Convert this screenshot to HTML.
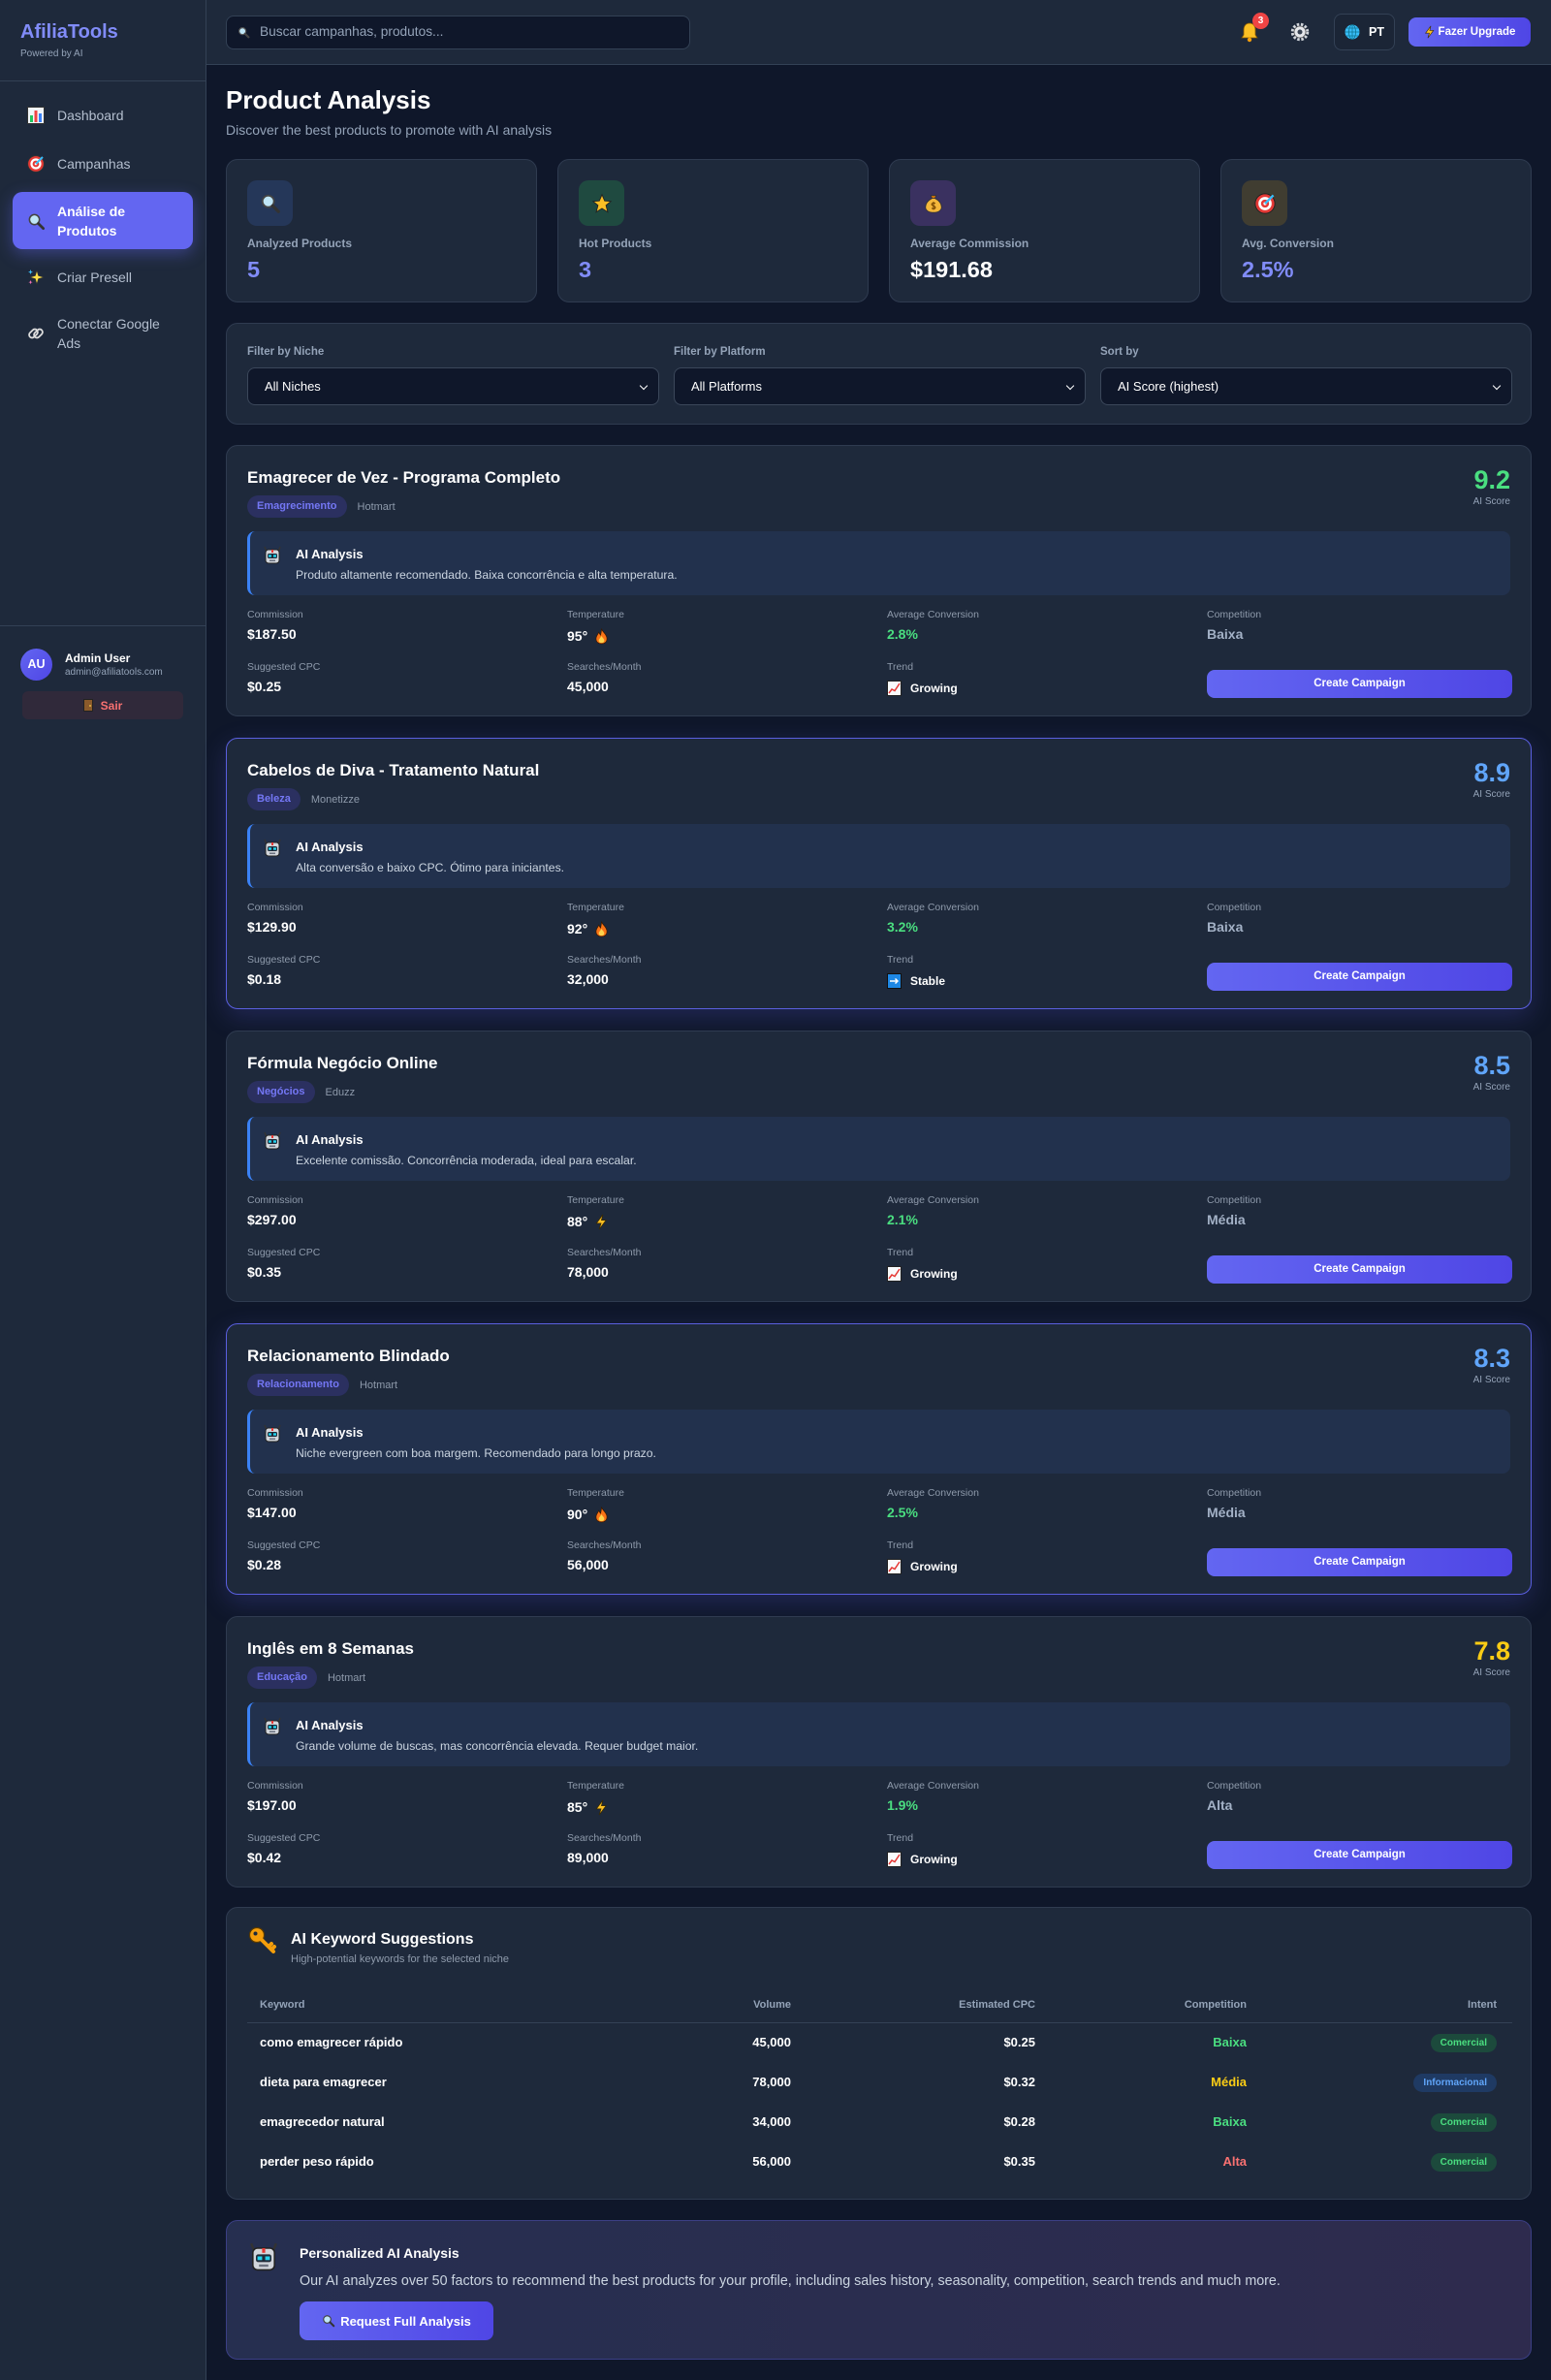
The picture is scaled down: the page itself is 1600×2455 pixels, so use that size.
<!DOCTYPE html>
<html><head><meta charset="utf-8">
<style>
*{box-sizing:border-box;margin:0;padding:0}
body{width:1600px;height:2455px;background:#0f172a;font-family:"Liberation Sans",Arial,sans-serif;color:#fff;position:relative;overflow:hidden}
.a{position:absolute}
svg{display:block}
.sidebar{position:absolute;left:0;top:0;width:213px;height:2455px;background:#1e293b;border-right:1px solid #334155}
.nav{position:absolute;left:0;width:213px;height:20px;font-size:14px;color:#b4bfcf;line-height:20px}
.nav .ic{position:absolute;left:28px;top:1px}
.nav .tx{position:absolute;left:59px;top:0;white-space:nowrap}
.header{position:absolute;left:213px;top:0;width:1387px;height:67px;background:#1e293b;border-bottom:1px solid #334155}
.card{position:absolute;left:233px;width:1347px;background:#1e293b;border:1px solid #2f3b50;border-radius:12px}
.stat{position:absolute;top:164px;width:321px;height:148px;background:#1e293b;border:1px solid #2f3b50;border-radius:12px}
.stat .ib{position:absolute;left:21px;top:21px;width:47px;height:47px;border-radius:10px;display:flex;align-items:center;justify-content:center}
.stat .lb{position:absolute;left:21px;top:79px;font-size:12px;line-height:14px;color:#94a3b8;font-weight:bold;}
.stat .vl{position:absolute;left:21px;top:98px;font-size:23.5px;line-height:30px;font-weight:bold;color:#818cf8}
.flab{position:absolute;top:23px;font-size:11.5px;line-height:12px;color:#94a3b8;font-weight:bold}
.sel{position:absolute;top:45px;width:425px;height:39px;background:#0f172a;border:1px solid #3b475a;border-radius:8px;font-size:13px;line-height:37px;padding-left:17px;color:#fff}
.sel .chev{position:absolute;right:12px;top:15px;width:6px;height:6px;border-right:1.6px solid #fff;border-bottom:1.6px solid #fff;transform:rotate(45deg)}
.pc{height:280px}
.pc.hl{border-color:#5a5fe0;box-shadow:0 8px 26px rgba(99,102,241,0.22)}
.pc .tt{position:absolute;left:21px;top:22px;font-size:17px;line-height:22px;font-weight:bold;white-space:nowrap}
.pc .bd{position:absolute;left:21px;top:51px;height:23px;display:flex;align-items:center;font-size:11px}
.pc .bd .n{background:#2b3060;color:#7477f5;border-radius:12px;padding:0 10px;line-height:23px;font-weight:bold}
.pc .bd .p{color:#8e9aab;margin-left:11px}
.pc .sc{position:absolute;right:21px;top:20px;font-size:27px;line-height:30px;font-weight:bold;text-align:right}
.pc .sl{position:absolute;right:21px;top:52px;font-size:10px;line-height:12px;color:#94a3b8}
.pc .ai{position:absolute;left:21px;right:21px;top:88px;height:66px;background:#22314d;border-left:3px solid #3b82f6;border-radius:8px}
.pc .ai .rb{position:absolute;left:13px;top:13px}
.pc .ai .h{position:absolute;left:47px;top:16px;font-size:13px;line-height:16px;font-weight:bold}
.pc .ai .d{position:absolute;left:47px;top:38px;font-size:12.2px;line-height:14px;color:#cbd5e1;white-space:nowrap}
.pc .ml{position:absolute;font-size:10.5px;line-height:12px;color:#8e9aab}
.pc .mv{position:absolute;font-size:14px;line-height:18px;font-weight:bold;display:flex;align-items:center;white-space:nowrap}
.pc .btn{position:absolute;left:1011px;top:231px;width:315px;height:29px;border-radius:8px;background:linear-gradient(90deg,#6366f1,#4f46e5);font-size:11.5px;line-height:29px;text-align:center;font-weight:bold}
.kw{position:absolute;font-size:13px;line-height:16px;font-weight:bold;white-space:nowrap}
.th{position:absolute;top:93px;font-size:11px;line-height:14px;color:#94a3b8;font-weight:bold}
.pill{position:absolute;height:19px;border-radius:10px;font-size:10px;line-height:19px;padding:0 10px;font-weight:bold}
</style></head><body>

<!-- SIDEBAR -->
<div class="sidebar">
  <div class="a" style="left:21px;top:21px;font-size:20px;line-height:24px;font-weight:bold;color:#818cf8">AfiliaTools</div>
  <div class="a" style="left:21px;top:50px;font-size:10px;line-height:12px;color:#94a3b8">Powered by AI</div>
  <div class="a" style="left:0;top:83px;width:212px;height:1px;background:#334155"></div>

  <div class="nav" style="top:109px"><span class="ic"><svg width="18" height="18" viewBox="0 0 18 18"><rect x=".5" y=".5" width="17" height="17" fill="#f1f5f9" stroke="#333"/><rect x="3" y="9" width="3" height="7" fill="#22c55e"/><rect x="7.5" y="4" width="3" height="12" fill="#ef4444"/><rect x="12" y="7" width="3" height="9" fill="#3b82f6"/></svg></span><span class="tx">Dashboard</span></div>
  <div class="nav" style="top:159px"><span class="ic"><svg width="18" height="18" viewBox="0 0 18 18"><circle cx="9" cy="9" r="8.3" fill="#e53935" stroke="#333" stroke-width=".8"/><circle cx="9" cy="9" r="5.6" fill="#fff"/><circle cx="9" cy="9" r="3.4" fill="#e53935"/><circle cx="9" cy="9" r="1.3" fill="#fff"/><path d="M9 9L16 2" stroke="#38bdf8" stroke-width="2"/></svg></span><span class="tx">Campanhas</span></div>

  <div class="a" style="left:13px;top:198px;width:186px;height:59px;border-radius:10px;background:#6366f1;box-shadow:0 5px 16px rgba(99,102,241,0.4)"></div>
  <div class="a" style="left:28px;top:219px"><svg width="19" height="19" viewBox="0 0 24 24"><circle cx="9.5" cy="9.5" r="6.5" fill="#bfe6f7" stroke="#444" stroke-width="2"/><path d="M14.5 14.5L21 21" stroke="#333" stroke-width="3.5" stroke-linecap="round"/></svg></div>
  <div class="a" style="left:59px;top:208px;font-size:14px;line-height:20px;font-weight:bold;color:#fff">Análise de<br>Produtos</div>

  <div class="nav" style="top:276px"><span class="ic"><svg width="18" height="18" viewBox="0 0 18 18"><path d="M10 2L11.6 7.4L17 9L11.6 10.6L10 16L8.4 10.6L3 9L8.4 7.4Z" fill="#fde047" stroke="#333" stroke-width=".6"/><path d="M3.5 1L4.2 3L6 3.6L4.2 4.2L3.5 6L2.8 4.2L1 3.6L2.8 3Z" fill="#38bdf8"/><path d="M3.5 12L4.1 13.6L5.6 14.1L4.1 14.6L3.5 16.2L2.9 14.6L1.4 14.1L2.9 13.6Z" fill="#f472b6"/></svg></span><span class="tx">Criar Presell</span></div>
  <div class="a" style="left:28px;top:335px"><svg width="18" height="18" viewBox="0 0 18 18"><rect x="1.5" y="6" width="10" height="6" rx="3" transform="rotate(-45 6.5 9)" fill="none" stroke="#ddd" stroke-width="1.8"/><rect x="6.5" y="6" width="10" height="6" rx="3" transform="rotate(-45 11.5 9)" fill="none" stroke="#ddd" stroke-width="1.8"/></svg></div>
  <div class="a" style="left:59px;top:324px;font-size:14px;line-height:20px;color:#b4bfcf">Conectar Google<br>Ads</div>

  <div class="a" style="left:0;top:645px;width:212px;height:1px;background:#334155"></div>
  <div class="a" style="left:21px;top:669px;width:33px;height:33px;border-radius:50%;background:linear-gradient(135deg,#6366f1,#4f46e5);font-size:12.5px;font-weight:bold;line-height:33px;text-align:center">AU</div>
  <div class="a" style="left:67px;top:672px;font-size:12px;line-height:14px;font-weight:bold">Admin User</div>
  <div class="a" style="left:67px;top:688px;font-size:10px;line-height:12px;color:#94a3b8">admin@afiliatools.com</div>
  <div class="a" style="left:23px;top:713px;width:166px;height:29px;border-radius:6px;background:#30293a;display:flex;align-items:center;justify-content:center;font-size:12px;font-weight:bold;color:#f87171"><svg width="10" height="13" viewBox="0 0 10 13" style="margin-right:8px"><rect x=".5" y=".5" width="9" height="12" fill="#8b5a2b" stroke="#222"/><circle cx="7" cy="7" r=".9" fill="#fcd34d"/></svg>Sair</div>
</div>

<!-- HEADER -->
<div class="header"></div>
<div class="a" style="left:233px;top:16px;width:479px;height:35px;background:#0f172a;border:1px solid #334155;border-radius:8px"></div>
<div class="a" style="left:245px;top:27px"><svg width="13" height="13" viewBox="0 0 24 24"><circle cx="9.5" cy="9.5" r="6.5" fill="#bfe6f7" stroke="#555" stroke-width="2.2"/><path d="M14.5 14.5L21 21" stroke="#444" stroke-width="4" stroke-linecap="round"/></svg></div>
<div class="a" style="left:268px;top:25px;font-size:13.7px;line-height:16px;color:#94a3b8">Buscar campanhas, produtos...</div>

<div class="a" style="left:1279px;top:22px"><svg width="20" height="22" viewBox="0 0 20 22"><path d="M10 2C6 2 4 5 4 9V14L2 17H18L16 14V9C16 5 14 2 10 2Z" fill="#fbbf24" stroke="#8a5a00" stroke-width=".8"/><circle cx="10" cy="19" r="2.2" fill="#f59e0b"/></svg></div>
<div class="a" style="left:1292px;top:13px;width:17px;height:17px;border-radius:50%;background:#ef4444;font-size:10px;line-height:17px;text-align:center;font-weight:bold">3</div>
<div class="a" style="left:1331px;top:23px"><svg width="20" height="20" viewBox="0 0 20 20"><circle cx="10" cy="10" r="7.5" fill="none" stroke="#d1d5db" stroke-width="3.5" stroke-dasharray="2.4 1.6"/><circle cx="10" cy="10" r="6" fill="#e5e7eb" stroke="#555" stroke-width=".8"/><circle cx="10" cy="10" r="2.5" fill="#374151"/></svg></div>
<div class="a" style="left:1376px;top:14px;width:63px;height:38px;border:1px solid #334155;border-radius:8px;background:#1b2536"></div>
<div class="a" style="left:1387px;top:25px"><svg width="16" height="16" viewBox="0 0 16 16"><circle cx="8" cy="8" r="7.5" fill="#38bdf8"/><path d="M.5 8H15.5M8 .5V15.5M2 4H14M2 12H14" stroke="#0e7490" stroke-width=".8"/><ellipse cx="8" cy="8" rx="3.5" ry="7.5" fill="none" stroke="#0e7490" stroke-width=".8"/></svg></div>
<div class="a" style="left:1412px;top:26px;font-size:12.5px;line-height:14px;font-weight:bold">PT</div>
<div class="a" style="left:1453px;top:18px;width:126px;height:30px;border-radius:8px;background:linear-gradient(90deg,#6366f1,#4f46e5);display:flex;align-items:center;justify-content:center;font-size:11.5px;font-weight:bold"><svg width="11" height="14" viewBox="0 0 14 18" style="margin-right:4px"><path d="M9 1L2 10.5H7L5 17L12.5 7H7.5L9 1Z" fill="#fbbf24" stroke="#3a2a00" stroke-width=".8"/></svg>Fazer Upgrade</div>

<!-- TITLE -->
<div class="a" style="left:233px;top:88px;font-size:26px;line-height:30px;font-weight:bold">Product Analysis</div>
<div class="a" style="left:233px;top:126px;font-size:14px;line-height:16px;color:#94a3b8">Discover the best products to promote with AI analysis</div>

<!-- STATS -->
<div class="stat" style="left:233px"><div class="ib" style="background:#253759"><svg width="22" height="22" viewBox="0 0 24 24"><circle cx="9.5" cy="9.5" r="6.5" fill="#bfe6f7" stroke="#444" stroke-width="2"/><path d="M14.5 14.5L21 21" stroke="#333" stroke-width="3.5" stroke-linecap="round"/></svg></div><div class="lb">Analyzed Products</div><div class="vl">5</div></div>
<div class="stat" style="left:575px"><div class="ib" style="background:#1f4a40"><svg width="22" height="22" viewBox="0 0 24 24"><polygon points="12,2 15,9 22,9.5 16.5,14 18.5,21.5 12,17.5 5.5,21.5 7.5,14 2,9.5 9,9" fill="#fbbf24" stroke="#222" stroke-width="1"/></svg></div><div class="lb">Hot Products</div><div class="vl">3</div></div>
<div class="stat" style="left:917px"><div class="ib" style="background:#3a3160"><svg width="22" height="22" viewBox="0 0 24 24"><path d="M9 3H15L13.5 6H10.5Z" fill="#d97706" stroke="#333" stroke-width=".8"/><path d="M10.5 6C5 9 3 13 3 16C3 20 7 22 12 22C17 22 21 20 21 16C21 13 19 9 13.5 6Z" fill="#f5b73b" stroke="#333" stroke-width=".9"/><path d="M12 10V19M14 12C13 11 10 11 10 13C10 15 14 14 14 16.5C14 18 11 18.5 10 17" stroke="#7c4a03" stroke-width="1.3" fill="none"/></svg></div><div class="lb">Average Commission</div><div class="vl" style="color:#fff">$191.68</div></div>
<div class="stat" style="left:1259px"><div class="ib" style="background:#403d31"><svg width="22" height="22" viewBox="0 0 18 18"><circle cx="9" cy="9" r="8.3" fill="#e53935" stroke="#222" stroke-width=".8"/><circle cx="9" cy="9" r="5.6" fill="#fff"/><circle cx="9" cy="9" r="3.4" fill="#e53935"/><circle cx="9" cy="9" r="1.3" fill="#fff"/><path d="M9 9L16 2" stroke="#38bdf8" stroke-width="2"/></svg></div><div class="lb">Avg. Conversion</div><div class="vl">2.5%</div></div>

<!-- FILTERS -->
<div class="card" style="top:333px;height:105px">
  <div class="flab" style="left:21px">Filter by Niche</div>
  <div class="flab" style="left:461px">Filter by Platform</div>
  <div class="flab" style="left:901px">Sort by</div>
  <div class="sel" style="left:21px">All Niches<span class="chev"></span></div>
  <div class="sel" style="left:461px">All Platforms<span class="chev"></span></div>
  <div class="sel" style="left:901px">AI Score (highest)<span class="chev"></span></div>
</div>

<!-- PRODUCT CARDS -->
<div class="card pc" style="top:459px">
  <div class="tt">Emagrecer de Vez - Programa Completo</div>
  <div class="bd"><span class="n">Emagrecimento</span><span class="p">Hotmart</span></div>
  <div class="sc" style="color:#4ade80">9.2</div><div class="sl">AI Score</div>
  <div class="ai"><div class="rb"><svg width="20" height="22" viewBox="0 0 20 22"><path d="M2 3L4 8M18 3L16 8" stroke="#333" stroke-width="1.5"/><rect x="3" y="6" width="14" height="14" rx="3" fill="#d1d5db" stroke="#222"/><rect x="9" y="6" width="2" height="3" fill="#e53935"/><rect x="5" y="10" width="10" height="5" rx="1.5" fill="#1f2937"/><rect x="6" y="11.3" width="3" height="2.4" fill="#22d3ee"/><rect x="11" y="11.3" width="3" height="2.4" fill="#22d3ee"/><rect x="7" y="16.5" width="6" height="1.5" fill="#6b7280"/></svg></div><div class="h">AI Analysis</div><div class="d">Produto altamente recomendado. Baixa concorrência e alta temperatura.</div></div>
  <div class="ml" style="left:21px;top:168px">Commission</div><div class="mv" style="left:21px;top:185px">$187.50</div>
  <div class="ml" style="left:351px;top:168px">Temperature</div><div class="mv" style="left:351px;top:187px">95°<svg style="margin-left:7px" width="15" height="18" viewBox="0 0 16 18"><path d="M8 1C9 5 14 7 14 12C14 15.5 11.5 17.5 8 17.5C4.5 17.5 2 15.5 2 12C2 9 4 7.5 5 5C6 7 6.5 7.5 7 8C7.5 5.5 8 3.5 8 1Z" fill="#f97316" stroke="#3a1a00" stroke-width=".8"/><path d="M8 9C9 11 11 12 11 14C11 15.7 9.7 16.5 8 16.5C6.3 16.5 5 15.7 5 14C5 12.5 6.5 11.5 8 9Z" fill="#fcd34d"/></svg></div>
  <div class="ml" style="left:681px;top:168px">Average Conversion</div><div class="mv" style="left:681px;top:185px;color:#4ade80">2.8%</div>
  <div class="ml" style="left:1011px;top:168px">Competition</div><div class="mv" style="left:1011px;top:185px;color:#a3b1c6">Baixa</div>
  <div class="ml" style="left:21px;top:222px">Suggested CPC</div><div class="mv" style="left:21px;top:239px">$0.25</div>
  <div class="ml" style="left:351px;top:222px">Searches/Month</div><div class="mv" style="left:351px;top:239px">45,000</div>
  <div class="ml" style="left:681px;top:222px">Trend</div><div class="mv" style="left:681px;top:241px;font-size:12px"><svg style="margin-right:9px" width="15" height="16" viewBox="0 0 15 16"><rect x=".5" y=".5" width="14" height="15" fill="#f8fafc" stroke="#222"/><polyline points="2,13 5,9 8,10.5 13,3" fill="none" stroke="#e53935" stroke-width="1.5"/></svg>Growing</div>
  <div class="btn">Create Campaign</div>
</div>

<div class="card pc hl" style="top:761px">
  <div class="tt">Cabelos de Diva - Tratamento Natural</div>
  <div class="bd"><span class="n">Beleza</span><span class="p">Monetizze</span></div>
  <div class="sc" style="color:#60a5fa">8.9</div><div class="sl">AI Score</div>
  <div class="ai"><div class="rb"><svg width="20" height="22" viewBox="0 0 20 22"><path d="M2 3L4 8M18 3L16 8" stroke="#333" stroke-width="1.5"/><rect x="3" y="6" width="14" height="14" rx="3" fill="#d1d5db" stroke="#222"/><rect x="9" y="6" width="2" height="3" fill="#e53935"/><rect x="5" y="10" width="10" height="5" rx="1.5" fill="#1f2937"/><rect x="6" y="11.3" width="3" height="2.4" fill="#22d3ee"/><rect x="11" y="11.3" width="3" height="2.4" fill="#22d3ee"/><rect x="7" y="16.5" width="6" height="1.5" fill="#6b7280"/></svg></div><div class="h">AI Analysis</div><div class="d">Alta conversão e baixo CPC. Ótimo para iniciantes.</div></div>
  <div class="ml" style="left:21px;top:168px">Commission</div><div class="mv" style="left:21px;top:185px">$129.90</div>
  <div class="ml" style="left:351px;top:168px">Temperature</div><div class="mv" style="left:351px;top:187px">92°<svg style="margin-left:7px" width="15" height="18" viewBox="0 0 16 18"><path d="M8 1C9 5 14 7 14 12C14 15.5 11.5 17.5 8 17.5C4.5 17.5 2 15.5 2 12C2 9 4 7.5 5 5C6 7 6.5 7.5 7 8C7.5 5.5 8 3.5 8 1Z" fill="#f97316" stroke="#3a1a00" stroke-width=".8"/><path d="M8 9C9 11 11 12 11 14C11 15.7 9.7 16.5 8 16.5C6.3 16.5 5 15.7 5 14C5 12.5 6.5 11.5 8 9Z" fill="#fcd34d"/></svg></div>
  <div class="ml" style="left:681px;top:168px">Average Conversion</div><div class="mv" style="left:681px;top:185px;color:#4ade80">3.2%</div>
  <div class="ml" style="left:1011px;top:168px">Competition</div><div class="mv" style="left:1011px;top:185px;color:#a3b1c6">Baixa</div>
  <div class="ml" style="left:21px;top:222px">Suggested CPC</div><div class="mv" style="left:21px;top:239px">$0.18</div>
  <div class="ml" style="left:351px;top:222px">Searches/Month</div><div class="mv" style="left:351px;top:239px">32,000</div>
  <div class="ml" style="left:681px;top:222px">Trend</div><div class="mv" style="left:681px;top:241px;font-size:12px"><svg style="margin-right:9px" width="15" height="16" viewBox="0 0 15 16"><rect x=".5" y=".5" width="14" height="15" fill="#1e88e5" stroke="#111"/><path d="M3 8H11M8.5 5.5L11 8L8.5 10.5" stroke="#fff" stroke-width="1.5" fill="none"/></svg>Stable</div>
  <div class="btn">Create Campaign</div>
</div>

<div class="card pc" style="top:1063px">
  <div class="tt">Fórmula Negócio Online</div>
  <div class="bd"><span class="n">Negócios</span><span class="p">Eduzz</span></div>
  <div class="sc" style="color:#60a5fa">8.5</div><div class="sl">AI Score</div>
  <div class="ai"><div class="rb"><svg width="20" height="22" viewBox="0 0 20 22"><path d="M2 3L4 8M18 3L16 8" stroke="#333" stroke-width="1.5"/><rect x="3" y="6" width="14" height="14" rx="3" fill="#d1d5db" stroke="#222"/><rect x="9" y="6" width="2" height="3" fill="#e53935"/><rect x="5" y="10" width="10" height="5" rx="1.5" fill="#1f2937"/><rect x="6" y="11.3" width="3" height="2.4" fill="#22d3ee"/><rect x="11" y="11.3" width="3" height="2.4" fill="#22d3ee"/><rect x="7" y="16.5" width="6" height="1.5" fill="#6b7280"/></svg></div><div class="h">AI Analysis</div><div class="d">Excelente comissão. Concorrência moderada, ideal para escalar.</div></div>
  <div class="ml" style="left:21px;top:168px">Commission</div><div class="mv" style="left:21px;top:185px">$297.00</div>
  <div class="ml" style="left:351px;top:168px">Temperature</div><div class="mv" style="left:351px;top:187px">88°<svg style="margin-left:7px" width="14" height="17" viewBox="0 0 14 18"><path d="M9 1L2 10.5H7L5 17L12.5 7H7.5L9 1Z" fill="#fbbf24" stroke="#3a2a00" stroke-width=".8"/></svg></div>
  <div class="ml" style="left:681px;top:168px">Average Conversion</div><div class="mv" style="left:681px;top:185px;color:#4ade80">2.1%</div>
  <div class="ml" style="left:1011px;top:168px">Competition</div><div class="mv" style="left:1011px;top:185px;color:#a3b1c6">Média</div>
  <div class="ml" style="left:21px;top:222px">Suggested CPC</div><div class="mv" style="left:21px;top:239px">$0.35</div>
  <div class="ml" style="left:351px;top:222px">Searches/Month</div><div class="mv" style="left:351px;top:239px">78,000</div>
  <div class="ml" style="left:681px;top:222px">Trend</div><div class="mv" style="left:681px;top:241px;font-size:12px"><svg style="margin-right:9px" width="15" height="16" viewBox="0 0 15 16"><rect x=".5" y=".5" width="14" height="15" fill="#f8fafc" stroke="#222"/><polyline points="2,13 5,9 8,10.5 13,3" fill="none" stroke="#e53935" stroke-width="1.5"/></svg>Growing</div>
  <div class="btn">Create Campaign</div>
</div>

<div class="card pc hl" style="top:1365px">
  <div class="tt">Relacionamento Blindado</div>
  <div class="bd"><span class="n">Relacionamento</span><span class="p">Hotmart</span></div>
  <div class="sc" style="color:#60a5fa">8.3</div><div class="sl">AI Score</div>
  <div class="ai"><div class="rb"><svg width="20" height="22" viewBox="0 0 20 22"><path d="M2 3L4 8M18 3L16 8" stroke="#333" stroke-width="1.5"/><rect x="3" y="6" width="14" height="14" rx="3" fill="#d1d5db" stroke="#222"/><rect x="9" y="6" width="2" height="3" fill="#e53935"/><rect x="5" y="10" width="10" height="5" rx="1.5" fill="#1f2937"/><rect x="6" y="11.3" width="3" height="2.4" fill="#22d3ee"/><rect x="11" y="11.3" width="3" height="2.4" fill="#22d3ee"/><rect x="7" y="16.5" width="6" height="1.5" fill="#6b7280"/></svg></div><div class="h">AI Analysis</div><div class="d">Niche evergreen com boa margem. Recomendado para longo prazo.</div></div>
  <div class="ml" style="left:21px;top:168px">Commission</div><div class="mv" style="left:21px;top:185px">$147.00</div>
  <div class="ml" style="left:351px;top:168px">Temperature</div><div class="mv" style="left:351px;top:187px">90°<svg style="margin-left:7px" width="15" height="18" viewBox="0 0 16 18"><path d="M8 1C9 5 14 7 14 12C14 15.5 11.5 17.5 8 17.5C4.5 17.5 2 15.5 2 12C2 9 4 7.5 5 5C6 7 6.5 7.5 7 8C7.5 5.5 8 3.5 8 1Z" fill="#f97316" stroke="#3a1a00" stroke-width=".8"/><path d="M8 9C9 11 11 12 11 14C11 15.7 9.7 16.5 8 16.5C6.3 16.5 5 15.7 5 14C5 12.5 6.5 11.5 8 9Z" fill="#fcd34d"/></svg></div>
  <div class="ml" style="left:681px;top:168px">Average Conversion</div><div class="mv" style="left:681px;top:185px;color:#4ade80">2.5%</div>
  <div class="ml" style="left:1011px;top:168px">Competition</div><div class="mv" style="left:1011px;top:185px;color:#a3b1c6">Média</div>
  <div class="ml" style="left:21px;top:222px">Suggested CPC</div><div class="mv" style="left:21px;top:239px">$0.28</div>
  <div class="ml" style="left:351px;top:222px">Searches/Month</div><div class="mv" style="left:351px;top:239px">56,000</div>
  <div class="ml" style="left:681px;top:222px">Trend</div><div class="mv" style="left:681px;top:241px;font-size:12px"><svg style="margin-right:9px" width="15" height="16" viewBox="0 0 15 16"><rect x=".5" y=".5" width="14" height="15" fill="#f8fafc" stroke="#222"/><polyline points="2,13 5,9 8,10.5 13,3" fill="none" stroke="#e53935" stroke-width="1.5"/></svg>Growing</div>
  <div class="btn">Create Campaign</div>
</div>

<div class="card pc" style="top:1667px">
  <div class="tt">Inglês em 8 Semanas</div>
  <div class="bd"><span class="n">Educação</span><span class="p">Hotmart</span></div>
  <div class="sc" style="color:#facc15">7.8</div><div class="sl">AI Score</div>
  <div class="ai"><div class="rb"><svg width="20" height="22" viewBox="0 0 20 22"><path d="M2 3L4 8M18 3L16 8" stroke="#333" stroke-width="1.5"/><rect x="3" y="6" width="14" height="14" rx="3" fill="#d1d5db" stroke="#222"/><rect x="9" y="6" width="2" height="3" fill="#e53935"/><rect x="5" y="10" width="10" height="5" rx="1.5" fill="#1f2937"/><rect x="6" y="11.3" width="3" height="2.4" fill="#22d3ee"/><rect x="11" y="11.3" width="3" height="2.4" fill="#22d3ee"/><rect x="7" y="16.5" width="6" height="1.5" fill="#6b7280"/></svg></div><div class="h">AI Analysis</div><div class="d">Grande volume de buscas, mas concorrência elevada. Requer budget maior.</div></div>
  <div class="ml" style="left:21px;top:168px">Commission</div><div class="mv" style="left:21px;top:185px">$197.00</div>
  <div class="ml" style="left:351px;top:168px">Temperature</div><div class="mv" style="left:351px;top:187px">85°<svg style="margin-left:7px" width="14" height="17" viewBox="0 0 14 18"><path d="M9 1L2 10.5H7L5 17L12.5 7H7.5L9 1Z" fill="#fbbf24" stroke="#3a2a00" stroke-width=".8"/></svg></div>
  <div class="ml" style="left:681px;top:168px">Average Conversion</div><div class="mv" style="left:681px;top:185px;color:#4ade80">1.9%</div>
  <div class="ml" style="left:1011px;top:168px">Competition</div><div class="mv" style="left:1011px;top:185px;color:#a3b1c6">Alta</div>
  <div class="ml" style="left:21px;top:222px">Suggested CPC</div><div class="mv" style="left:21px;top:239px">$0.42</div>
  <div class="ml" style="left:351px;top:222px">Searches/Month</div><div class="mv" style="left:351px;top:239px">89,000</div>
  <div class="ml" style="left:681px;top:222px">Trend</div><div class="mv" style="left:681px;top:241px;font-size:12px"><svg style="margin-right:9px" width="15" height="16" viewBox="0 0 15 16"><rect x=".5" y=".5" width="14" height="15" fill="#f8fafc" stroke="#222"/><polyline points="2,13 5,9 8,10.5 13,3" fill="none" stroke="#e53935" stroke-width="1.5"/></svg>Growing</div>
  <div class="btn">Create Campaign</div>
</div>

<!-- KEYWORDS -->
<div class="card" style="top:1967px;height:302px">
  <div class="a" style="left:21px;top:18px"><svg width="32" height="32" viewBox="0 0 32 32"><circle cx="10" cy="10" r="7.5" fill="#f59e0b" stroke="#5a3a00" stroke-width="1.2"/><circle cx="8.5" cy="8.5" r="2" fill="#1e293b"/><path d="M14.5 14.5L27 27M22 22L25 19M25 25L28 22" stroke="#f59e0b" stroke-width="4" stroke-linecap="round"/></svg></div>
  <div class="a" style="left:66px;top:24px;font-size:16px;line-height:18px;font-weight:bold">AI Keyword Suggestions</div>
  <div class="a" style="left:66px;top:47px;font-size:11px;line-height:12px;color:#8e9aab">High-potential keywords for the selected niche</div>

  <div class="th" style="left:34px">Keyword</div>
  <div class="th" style="right:763px">Volume</div>
  <div class="th" style="right:511px">Estimated CPC</div>
  <div class="th" style="right:293px">Competition</div>
  <div class="th" style="right:35px">Intent</div>
  <div class="a" style="left:21px;top:118px;width:1305px;height:1px;background:#334155"></div>

  <div class="kw" style="left:34px;top:131px">como emagrecer rápido</div>
  <div class="kw" style="right:763px;top:131px">45,000</div>
  <div class="kw" style="right:511px;top:131px">$0.25</div>
  <div class="kw" style="right:293px;top:131px;color:#4ade80">Baixa</div>
  <div class="pill" style="right:35px;top:130px;background:#1c4a3c;color:#4ade80">Comercial</div>

  <div class="kw" style="left:34px;top:172px">dieta para emagrecer</div>
  <div class="kw" style="right:763px;top:172px">78,000</div>
  <div class="kw" style="right:511px;top:172px">$0.32</div>
  <div class="kw" style="right:293px;top:172px;color:#facc15">Média</div>
  <div class="pill" style="right:35px;top:171px;background:#1f3a63;color:#60a5fa">Informacional</div>

  <div class="kw" style="left:34px;top:213px">emagrecedor natural</div>
  <div class="kw" style="right:763px;top:213px">34,000</div>
  <div class="kw" style="right:511px;top:213px">$0.28</div>
  <div class="kw" style="right:293px;top:213px;color:#4ade80">Baixa</div>
  <div class="pill" style="right:35px;top:212px;background:#1c4a3c;color:#4ade80">Comercial</div>

  <div class="kw" style="left:34px;top:254px">perder peso rápido</div>
  <div class="kw" style="right:763px;top:254px">56,000</div>
  <div class="kw" style="right:511px;top:254px">$0.35</div>
  <div class="kw" style="right:293px;top:254px;color:#f87171">Alta</div>
  <div class="pill" style="right:35px;top:253px;background:#1c4a3c;color:#4ade80">Comercial</div>
</div>

<!-- PERSONALIZED -->
<div class="a" style="left:233px;top:2290px;width:1347px;height:144px;border-radius:12px;border:1px solid #3b3f85;background:linear-gradient(90deg,#262f50,#2e2b4e)">
  <div class="a" style="left:22px;top:18px"><svg width="32" height="36" viewBox="0 0 20 22"><path d="M2 3L4 8M18 3L16 8" stroke="#333" stroke-width="1.5"/><rect x="3" y="6" width="14" height="14" rx="3" fill="#d1d5db" stroke="#222"/><rect x="9" y="6" width="2" height="3" fill="#e53935"/><rect x="5" y="10" width="10" height="5" rx="1.5" fill="#1f2937"/><rect x="6" y="11.3" width="3" height="2.4" fill="#22d3ee"/><rect x="11" y="11.3" width="3" height="2.4" fill="#22d3ee"/><rect x="7" y="16.5" width="6" height="1.5" fill="#6b7280"/></svg></div>
  <div class="a" style="left:75px;top:25px;font-size:14px;line-height:16px;font-weight:bold">Personalized AI Analysis</div>
  <div class="a" style="left:75px;top:54px;font-size:14.3px;line-height:16px;color:#cbd5e1;white-space:nowrap">Our AI analyzes over 50 factors to recommend the best products for your profile, including sales history, seasonality, competition, search trends and much more.</div>
  <div class="a" style="left:75px;top:83px;width:200px;height:40px;border-radius:8px;background:linear-gradient(90deg,#6366f1,#4f46e5);display:flex;align-items:center;justify-content:center;font-size:13px;font-weight:bold"><svg width="14" height="14" viewBox="0 0 24 24" style="margin-right:5px"><circle cx="9.5" cy="9.5" r="6.5" fill="#bfe6f7" stroke="#444" stroke-width="2"/><path d="M14.5 14.5L21 21" stroke="#333" stroke-width="3.5" stroke-linecap="round"/></svg>Request Full Analysis</div>
</div>

</body></html>
